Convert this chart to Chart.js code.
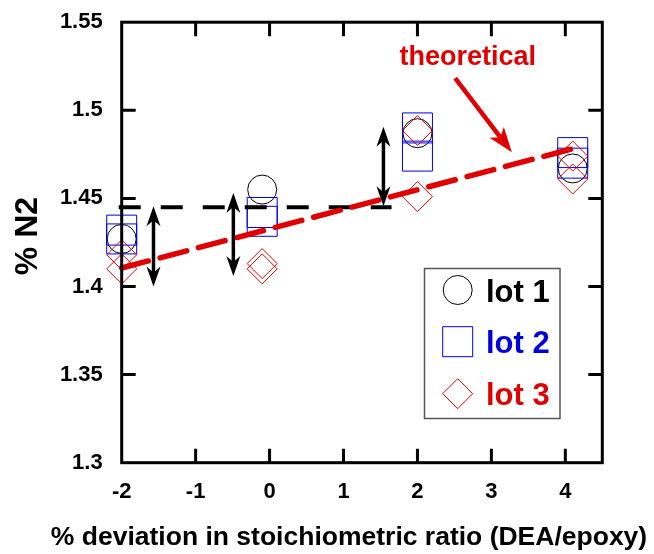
<!DOCTYPE html>
<html>
<head>
<meta charset="utf-8">
<title>% N2 vs stoichiometric deviation</title>
<script src="https://cdn.jsdelivr.net/npm/chart.js@4.4.1/dist/chart.umd.min.js"></script>
<style>
  html, body { margin: 0; padding: 0; background: #fff; }
  #wrap { width: 654px; height: 554px; }
</style>
</head>
<body>
<div id="wrap"><canvas id="myChart" width="654" height="554"></canvas></div>
<script>
// axis ranges and tick values
const xTicks = [-2, -1, 0, 1, 2, 3, 4];
const yTicks = [1.3, 1.35, 1.4, 1.45, 1.5, 1.55];

// measured %N2 per lot
const lot1X = [-2, -0.1, 2, 4.1];
const lot1Y = [1.427, 1.455, 1.487, 1.467];
const lot2X = [-2, -2, -0.1, -0.1, 2, 2, 4.1, 4.1];
const lot2Y = [1.432, 1.427, 1.442, 1.437, 1.490, 1.474, 1.476, 1.470];
const lot3X = [-2, -2, -0.1, -0.1, 2, 2, 4.1, 4.1];
const lot3Y = [1.418, 1.410, 1.413, 1.410, 1.4885, 1.451, 1.474, 1.461];

// theoretical line and the reference level
const theoryX = [-2, 4.08];
const theoryY = [1.4105, 1.478];
const refX = [-2.04, 1.65];
const refY = [1.445, 1.445];

// double arrows showing the offsets
const gapX = [-1.57, -0.49, 1.54];
const gapLow = [1.400, 1.406, 1.4456];
const gapHigh = [1.4455, 1.453, 1.4906];

// "theoretical" label and its pointer (data coords)
const noteText = 'theoretical';
const notePos = { x: 1.756, y: 1.5297 };
const pointerFrom = { x: 2.51, y: 1.5183 };
const pointerTo = { x: 3.277, y: 1.4762 };

const FONT = "'Liberation Sans', Arial, Helvetica, sans-serif";
const RED = '#e00000';
const BLUE = '#0000dd';

const pts = (xs, ys) => xs.map((x, i) => ({ x: x, y: ys[i] }));

function arrowHead(ctx, tx, ty, ang, len, hw, notch) {
    const c = Math.cos(ang), s = Math.sin(ang);
    const p = (a, b) => [tx - a * c - b * s, ty - a * s + b * c];
    ctx.beginPath();
    ctx.moveTo(tx, ty);
    ctx.lineTo(...p(len, hw));
    ctx.lineTo(...p(len - notch, 0));
    ctx.lineTo(...p(len, -hw));
    ctx.closePath();
    ctx.fill();
}

function drawMarker(ctx, style, x, y, color) {
    ctx.save();
    ctx.strokeStyle = color;
    ctx.lineWidth = 1;
    ctx.beginPath();
    if (style === 'circle') {
        ctx.arc(x, y, 14.5, 0, Math.PI * 2);
    } else if (style === 'rect') {
        ctx.rect(x - 15, y - 15, 30, 30);
    } else {
        ctx.moveTo(x, y - 15);
        ctx.lineTo(x + 15, y);
        ctx.lineTo(x, y + 15);
        ctx.lineTo(x - 15, y);
        ctx.closePath();
    }
    ctx.stroke();
    ctx.restore();
}

// box, inner tick marks, arrows, titles and legend
const extras = {
    id: 'extras',
    afterDatasetsDraw(chart) {
        const ctx = chart.ctx;
        const a = chart.chartArea;
        const xs = chart.scales.x, ys = chart.scales.y;

        ctx.save();
        // double arrows
        ctx.strokeStyle = '#000';
        ctx.fillStyle = '#000';
        ctx.lineWidth = 3.5;
        gapX.forEach((gx, i) => {
            const px = xs.getPixelForValue(gx);
            const top = ys.getPixelForValue(gapHigh[i]);
            const bot = ys.getPixelForValue(gapLow[i]);
            ctx.beginPath();
            ctx.moveTo(px, top + 12);
            ctx.lineTo(px, bot - 12);
            ctx.stroke();
            arrowHead(ctx, px, top, -Math.PI / 2, 20, 7, 6);
            arrowHead(ctx, px, bot, Math.PI / 2, 20, 7, 6);
        });

        // pointer to the theoretical line
        const fx = xs.getPixelForValue(pointerFrom.x), fy = ys.getPixelForValue(pointerFrom.y);
        const tx = xs.getPixelForValue(pointerTo.x), ty = ys.getPixelForValue(pointerTo.y);
        const ang = Math.atan2(ty - fy, tx - fx);
        ctx.strokeStyle = RED;
        ctx.fillStyle = RED;
        ctx.lineWidth = 4.5;
        ctx.beginPath();
        ctx.moveTo(fx, fy);
        ctx.lineTo(tx - 16 * Math.cos(ang), ty - 16 * Math.sin(ang));
        ctx.stroke();
        arrowHead(ctx, tx, ty, ang, 25, 9, 6);

        ctx.font = 'bold 27px ' + FONT;
        ctx.textAlign = 'left';
        ctx.textBaseline = 'middle';
        ctx.fillText(noteText, xs.getPixelForValue(notePos.x), ys.getPixelForValue(notePos.y));

        // frame and inward ticks on all four sides
        ctx.strokeStyle = '#000';
        ctx.lineWidth = 3;
        ctx.strokeRect(a.left, a.top, a.right - a.left, a.bottom - a.top);
        ctx.beginPath();
        xTicks.forEach(v => {
            const px = xs.getPixelForValue(v);
            if (px <= a.left + 1 || px >= a.right - 1) return;
            ctx.moveTo(px, a.bottom);
            ctx.lineTo(px, a.bottom - 14);
            ctx.moveTo(px, a.top);
            ctx.lineTo(px, a.top + 14);
        });
        yTicks.forEach(v => {
            const py = ys.getPixelForValue(v);
            if (py <= a.top + 1 || py >= a.bottom - 1) return;
            ctx.moveTo(a.left, py);
            ctx.lineTo(a.left + 14, py);
            ctx.moveTo(a.right, py);
            ctx.lineTo(a.right - 14, py);
        });
        ctx.stroke();

        // axis titles
        ctx.fillStyle = '#000';
        ctx.font = 'bold 26.5px ' + FONT;
        ctx.textAlign = 'center';
        ctx.textBaseline = 'alphabetic';
        ctx.fillText('% deviation in stoichiometric ratio (DEA/epoxy)', 349, 545);

        ctx.save();
        ctx.translate(37, 236);
        ctx.rotate(-Math.PI / 2);
        ctx.font = 'bold 32px ' + FONT;
        ctx.fillText('% N2', 0, 0);
        ctx.restore();

        // legend
        ctx.fillStyle = '#fff';
        ctx.fillRect(424.5, 268.5, 135.5, 150);
        ctx.strokeStyle = '#555';
        ctx.lineWidth = 1.5;
        ctx.strokeRect(424.5, 268.5, 135.5, 150);
        const entries = [
            ['lot 1', 'circle', '#000', 290],
            ['lot 2', 'rect', BLUE, 341.7],
            ['lot 3', 'diamond', RED, 393.7]
        ];
        ctx.font = 'bold 31px ' + FONT;
        ctx.textAlign = 'left';
        entries.forEach(e => {
            drawMarker(ctx, e[1], 457.7, e[3], e[2]);
            ctx.fillStyle = e[2];
            ctx.fillText(e[0], 486, e[3] + 11.5);
        });
        ctx.restore();
    }
};

const markerSet = (label, xs, ys, style, radius, color, order) => ({
    type: 'scatter',
    label: label,
    data: pts(xs, ys),
    pointStyle: style,
    pointRadius: radius,
    pointBorderWidth: 1,
    pointBorderColor: color,
    pointBackgroundColor: 'rgba(0,0,0,0)',
    clip: false,
    order: order
});

// labels may hang past the plot box; don't let them shrink it
function noLabelPadding(scale) {
    scale.paddingTop = 0;
    scale.paddingBottom = 0;
    scale.paddingLeft = 0;
    scale.paddingRight = 0;
}

const ctx = document.getElementById('myChart').getContext('2d');
new Chart(ctx, {
    type: 'scatter',
    data: {
        datasets: [
            {
                type: 'line',
                label: 'theoretical',
                data: pts(theoryX, theoryY),
                borderColor: RED,
                borderWidth: 5.5,
                borderDash: [27.5, 12.2],
                borderCapStyle: 'round',
                pointRadius: 0,
                showLine: true,
                fill: false,
                clip: false,
                order: 0
            },
            {
                type: 'line',
                label: 'reference',
                data: pts(refX, refY),
                borderColor: '#000',
                borderWidth: 4,
                borderDash: [22, 20],
                borderCapStyle: 'butt',
                pointRadius: 0,
                showLine: true,
                fill: false,
                clip: false,
                order: 1
            },
            markerSet('lot 3', lot3X, lot3Y, 'rectRot', 15, RED, 2),
            markerSet('lot 2', lot2X, lot2Y, 'rect', 21.2, BLUE, 3),
            markerSet('lot 1', lot1X, lot1Y, 'circle', 14.5, '#000', 4)
        ]
    },
    options: {
        responsive: false,
        animation: false,
        devicePixelRatio: 1,
        events: [],
        layout: {
            padding: { top: 14, right: 51.7, bottom: 0, left: 0 }
        },
        plugins: {
            legend: { display: false },
            tooltip: { enabled: false }
        },
        scales: {
            x: {
                type: 'linear',
                position: 'bottom',
                min: -2,
                max: 4.5,
                grid: { display: false },
                border: { display: false },
                ticks: {
                    stepSize: 1,
                    includeBounds: false,
                    padding: 8,
                    color: '#000',
                    font: { family: FONT, size: 22, weight: 'bold' }
                },
                afterFit(scale) {
                    scale.height = 91.3;
                    noLabelPadding(scale);
                }
            },
            y: {
                type: 'linear',
                min: 1.3,
                max: 1.55,
                grid: { display: false },
                border: { display: false },
                ticks: {
                    stepSize: 0.05,
                    padding: 11,
                    color: '#000',
                    font: { family: FONT, size: 22, weight: 'bold' },
                    callback: function(value) {
                        return String(+value.toFixed(2));
                    }
                },
                afterFit(scale) {
                    scale.width = 121.7;
                    noLabelPadding(scale);
                }
            }
        }
    },
    plugins: [extras]
});
</script>
</body>
</html>
